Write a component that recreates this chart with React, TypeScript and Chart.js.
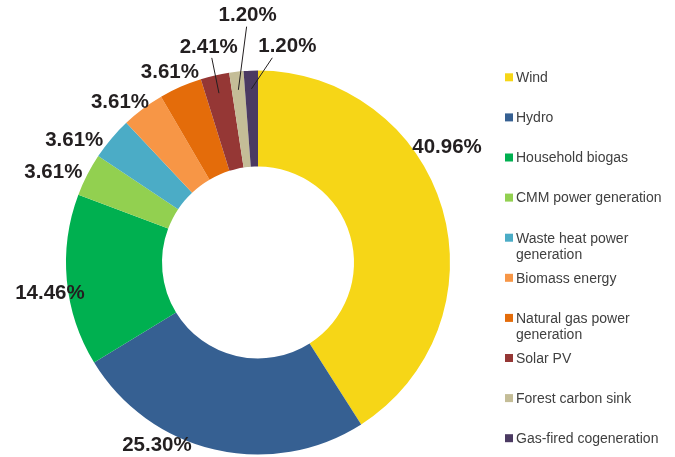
import React, { useEffect, useRef } from "react";
import { Chart, registerables } from "chart.js";

Chart.register(...registerables);

const categories = [
  "Wind",
  "Hydro",
  "Household biogas",
  "CMM power generation",
  "Waste heat power generation",
  "Biomass energy",
  "Natural gas power generation",
  "Solar PV",
  "Forest carbon sink",
  "Gas-fired cogeneration",
];

const shares = [40.96, 25.3, 14.46, 3.61, 3.61, 3.61, 3.61, 2.41, 1.2, 1.2];

const colors = [
  "#F6D617",
  "#366092",
  "#00B050",
  "#92D050",
  "#4BACC6",
  "#F79646",
  "#E46C0A",
  "#953735",
  "#C4BD97",
  "#4B3A62",
];

// label placement: angular shift (deg) from slice middle, and radius as fraction of outer radius
const labelAngleShift = [-15.25, 16.05, -2.94, -3.18, -6.43, -3.73, -0.98, 0.18, 4.08, 9.86];
const labelRadius = [1.155, 1.082, 1.095, 1.167, 1.151, 1.106, 1.094, 1.157, 1.292, 1.139];
// leader lines (null = none): horizontal shift of line start from label centre
const leaderDx: (number | null)[] = [null, null, null, null, null, null, null, 3, -1, -15];

const FONT = '"Liberation Sans", Arial, Helvetica, sans-serif';

const labelPlugin = {
  id: "sliceLabels",
  afterDatasetsDraw(chart: any) {
    const ctx = chart.ctx;
    const meta = chart.getDatasetMeta(0);
    ctx.save();
    ctx.font = `bold 20.5px ${FONT}`;
    ctx.fillStyle = "#231F20";
    ctx.strokeStyle = "#231F20";
    ctx.lineWidth = 1;
    ctx.textAlign = "center";
    ctx.textBaseline = "middle";
    meta.data.forEach((arc: any, i: number) => {
      const { x, y, startAngle, endAngle, outerRadius } = arc.getProps(
        ["x", "y", "startAngle", "endAngle", "outerRadius"],
        true
      );
      const mid = (startAngle + endAngle) / 2;
      const a = mid + (labelAngleShift[i] * Math.PI) / 180;
      const r = outerRadius * labelRadius[i];
      const lx = x + Math.cos(a) * r;
      const ly = y + Math.sin(a) * r;
      const dx = leaderDx[i];
      if (dx !== null) {
        const ex = x + Math.cos(mid) * outerRadius * 0.905;
        const ey = y + Math.sin(mid) * outerRadius * 0.905;
        ctx.beginPath();
        ctx.moveTo(lx + dx, ly + 12);
        ctx.lineTo(ex, ey);
        ctx.stroke();
      }
      ctx.fillText(shares[i].toFixed(2) + "%", lx, ly + 1);
    });
    ctx.restore();
  },
};

const legendPlugin = {
  id: "sideLegend",
  afterDraw(chart: any) {
    const ctx = chart.ctx;
    ctx.save();
    ctx.font = `14px ${FONT}`;
    ctx.textBaseline = "middle";
    ctx.textAlign = "left";
    const boxX = 505;
    const textX = 516;
    const top = 77.3;
    const step = 40.1;
    const maxW = 150;
    categories.forEach((name, i) => {
      const cy = top + step * i;
      ctx.fillStyle = colors[i];
      ctx.fillRect(boxX, cy - 4, 8, 8);
      const words = name.split(" ");
      const lines: string[] = [];
      let cur = "";
      words.forEach((w) => {
        const test = cur ? cur + " " + w : w;
        if (ctx.measureText(test).width > maxW && cur) {
          lines.push(cur);
          cur = w;
        } else cur = test;
      });
      if (cur) lines.push(cur);
      ctx.fillStyle = "#404040";
      lines.forEach((ln, j) => ctx.fillText(ln, textX, cy + 1 + j * 16));
    });
    ctx.restore();
  },
};

export default function App() {
  const ref = useRef<HTMLCanvasElement | null>(null);
  useEffect(() => {
    if (!ref.current) return;
    const chart = new Chart(ref.current, {
      type: "doughnut",
      data: {
        labels: categories,
        datasets: [
          {
            data: shares,
            backgroundColor: colors,
            borderWidth: 0,
            hoverOffset: 0,
            offset: 0,
          },
        ],
      },
      options: {
        responsive: false,
        animation: false,
        cutout: "50%",
        layout: { padding: { left: 66, right: 225, top: 70.5, bottom: 2.5 } },
        plugins: {
          legend: { display: false },
          tooltip: { enabled: false },
        },
      },
      plugins: [labelPlugin, legendPlugin],
    });
    return () => chart.destroy();
  }, []);
  return (
    <div style={{ position: "fixed", left: 0, top: 0, width: 675, height: 457, background: "#fff" }}>
      <canvas ref={ref} width={675} height={457} style={{ width: 675, height: 457 }} />
    </div>
  );
}
